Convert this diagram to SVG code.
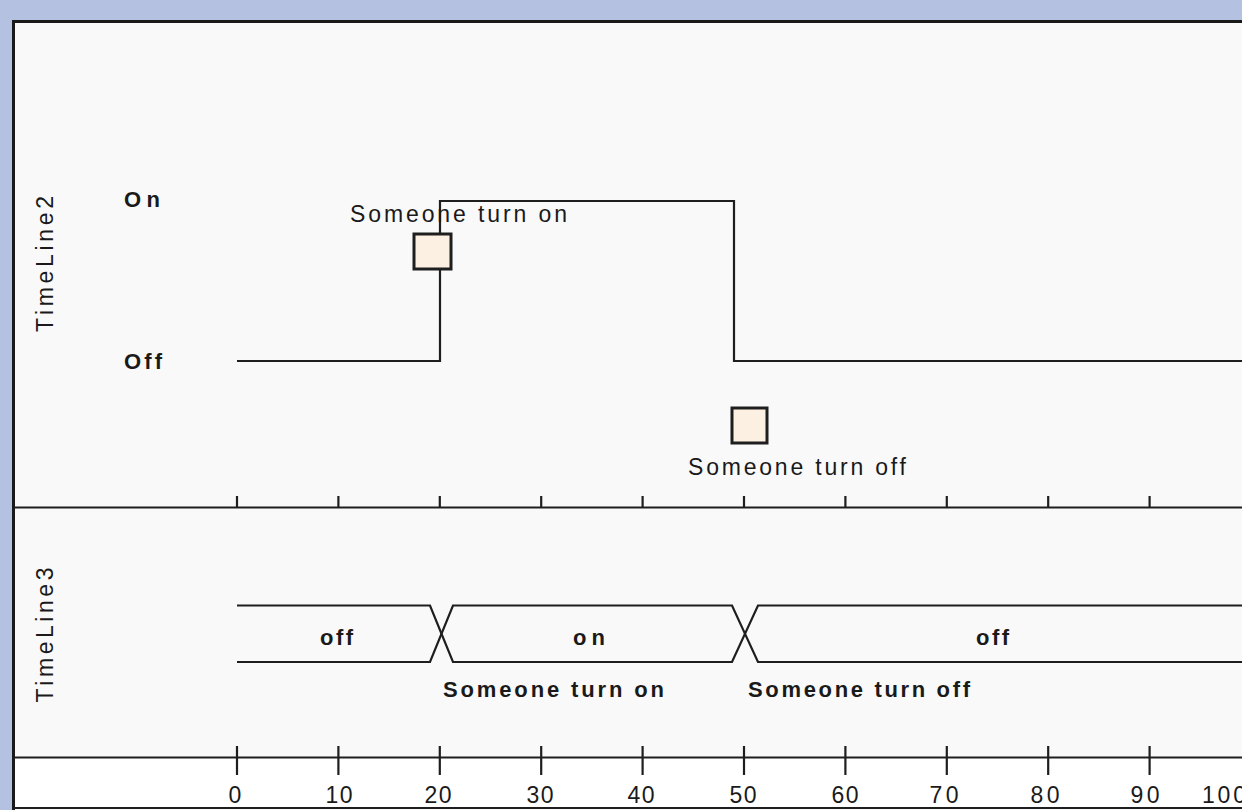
<svg xmlns="http://www.w3.org/2000/svg" width="1242" height="810" viewBox="0 0 1242 810">
  <defs>
    <style>
      .ln { fill: none; stroke: #1e1e1e; stroke-width: 2.2; }
      .brd { fill: none; stroke: #1a1a1a; stroke-width: 3; }
      .t { font-family: "Liberation Sans", Arial, sans-serif; font-size: 23px; fill: #1a1a1a; }
      .b { font-weight: bold; font-size: 22px; }
      .box { fill: #fcf0e2; stroke: #1e1e1e; stroke-width: 3; }
      .ax { text-anchor: middle; }
    </style>
  </defs>
  <rect x="0" y="0" width="1242" height="810" fill="#b4c1e0"/>
  <rect x="14" y="21" width="1228" height="789" fill="#f9f9f9"/>
  <rect x="14" y="758" width="1228" height="50" fill="#ffffff"/>
  <g id="frame">
    <path class="brd" d="M13.5,810 V21.5 H1242"/>
    <line class="ln" x1="14" y1="507.5" x2="1242" y2="507.5"/>
    <line class="ln" x1="14" y1="757.5" x2="1242" y2="757.5"/>
    <line class="ln" x1="14" y1="808" x2="1242" y2="808"/>
  </g>
  <g id="ticks" class="ln">
    <path d="M237,496V507 M338.4,496V507 M439.8,496V507 M541.2,496V507 M642.6,496V507 M744,496V507 M845.4,496V507 M946.8,496V507 M1048.2,496V507 M1149.6,496V507"/>
    <path d="M237,746V775 M338.4,746V775 M439.8,746V775 M541.2,746V775 M642.6,746V775 M744,746V775 M845.4,746V775 M946.8,746V775 M1048.2,746V775 M1149.6,746V775"/>
  </g>
  <g id="axis-labels" class="t ax">
    <text x="235" y="803">0</text>
    <text x="339" y="803" textLength="27" lengthAdjust="spacing">10</text>
    <text x="438" y="803" textLength="27" lengthAdjust="spacing">20</text>
    <text x="540" y="803" textLength="27" lengthAdjust="spacing">30</text>
    <text x="641" y="803" textLength="27" lengthAdjust="spacing">40</text>
    <text x="743" y="803" textLength="27" lengthAdjust="spacing">50</text>
    <text x="845" y="803" textLength="27" lengthAdjust="spacing">60</text>
    <text x="944" y="803" textLength="29" lengthAdjust="spacing">70</text>
    <text x="1045" y="803" textLength="29" lengthAdjust="spacing">80</text>
    <text x="1145" y="803" textLength="29" lengthAdjust="spacing">90</text>
    <text x="1224" y="803" textLength="44" lengthAdjust="spacing">100</text>
  </g>
  <g id="timeline2">
    <text class="t" transform="translate(53,264) rotate(-90)" text-anchor="middle" textLength="136" lengthAdjust="spacing">TimeLine2</text>
    <text class="t b" x="124" y="207" textLength="36" lengthAdjust="spacing">On</text>
    <text class="t b" x="124" y="369" textLength="38" lengthAdjust="spacing">Off</text>
    <polyline class="ln" points="237,361 440,361 440,201 734,201 734,361 1242,361"/>
  </g>
  <g id="event-on">
    <text class="t" x="350" y="222" textLength="217" lengthAdjust="spacing">Someone turn on</text>
    <rect class="box" x="414" y="234" width="37" height="35"/>
  </g>
  <g id="event-off">
    <rect class="box" x="732" y="408" width="35" height="35"/>
    <text class="t" x="688" y="475" textLength="218" lengthAdjust="spacing">Someone turn off</text>
  </g>
  <g id="timeline3">
    <text class="t" transform="translate(53,635) rotate(-90)" text-anchor="middle" textLength="135" lengthAdjust="spacing">TimeLine3</text>
    <path class="ln" d="M237,605.5 H430 L453,662 H732 L758,605.5 H1242"/>
    <path class="ln" d="M237,662 H430 L453,605.5 H732 L758,662 H1242"/>
    <text class="t b" x="320" y="645" textLength="33" lengthAdjust="spacing">off</text>
    <text class="t b" x="573" y="645" textLength="32" lengthAdjust="spacing">on</text>
    <text class="t b" x="976" y="645" textLength="33" lengthAdjust="spacing">off</text>
    <text class="t b" x="443" y="697" textLength="221" lengthAdjust="spacing">Someone turn on</text>
    <text class="t b" x="748" y="697" textLength="222" lengthAdjust="spacing">Someone turn off</text>
  </g>
</svg>
